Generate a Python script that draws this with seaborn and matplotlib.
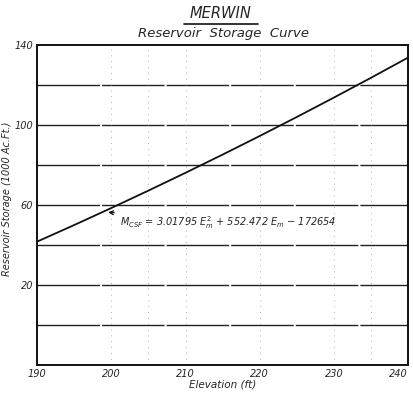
import numpy as np
import pandas as pd
import matplotlib
matplotlib.use("Agg")
import matplotlib.pyplot as plt
import seaborn as sns

# values
elevation = [190, 195, 200, 205, 210, 215, 220, 225, 230, 235, 240]
storage = [41.7, 50.0, 58.5, 67.2, 76.1, 85.2, 94.5, 104.0, 113.7, 123.6, 133.7]

x_ticks = [190, 200, 210, 220, 230, 240]
x_tick_labels = ["190", "200", "210", "220", "230", "240"]
y_ticks = [-20, 0, 20, 40, 60, 80, 100, 120, 140]
y_tick_labels = ["", "", "20", "", "60", "", "100", "", "140"]

equation = r"$M_{CSF}$ = 3.01795 $E_m^2$ + 552.472 $E_m$ $-$ 172654"

df = pd.DataFrame({"Elevation": elevation, "Storage": storage})

sns.set_style("white")
plt.rcParams["font.family"] = ["DejaVu Sans"]
plt.rcParams["mathtext.fontset"] = "dejavusans"

fig = plt.figure(figsize=(4.13, 4.0), dpi=100)
ax = fig.add_axes([0.09, 0.0875, 0.898, 0.8])

# horizontal grid (dark, hand drawn look)
for y in y_ticks[1:-1]:
    ax.axhline(y, color="#222222", lw=1.0, ls=(0, (45, 1.5)), zorder=1)
# faint vertical rulings
for x in [200, 205, 210, 220, 230, 235]:
    ax.axvline(x, color="#999999", lw=0.6, ls=(0, (1, 6)), zorder=1)

sns.lineplot(data=df, x="Elevation", y="Storage", color="#111111", lw=1.3, ax=ax, zorder=3)

ax.set_xlim(190, 240)
ax.set_ylim(-20, 140)
ax.set_xticks(x_ticks)
ax.set_xticklabels(x_tick_labels, fontstyle="italic", fontsize=7)
ax.get_xticklabels()[-1].set_ha("right")
ax.set_yticks(y_ticks)
ax.set_yticklabels(y_tick_labels, fontstyle="italic", fontsize=7)
ax.tick_params(axis="both", length=2, pad=1, color="#222222")
for side in ["left", "right", "top", "bottom"]:
    ax.spines[side].set_color("#111111")
    ax.spines[side].set_linewidth(1.4)

ax.set_xlabel("Elevation (ft)", fontstyle="italic", fontsize=7.5, labelpad=0)
ax.set_ylabel("Reservoir Storage (1000 Ac.Ft.)", fontstyle="italic", fontsize=7)
ax.yaxis.set_label_coords(-0.068, 0.52)

ax.annotate(equation, xy=(199.2, 56.5), xytext=(201.2, 51),
            fontsize=7, fontstyle="italic", va="center", ha="left",
            arrowprops=dict(arrowstyle="->", color="#111111", lw=0.9))

fig.text(0.535, 0.965, "MERWIN", ha="center", va="center", fontsize=10.5,
         fontstyle="italic")
fig.add_artist(plt.Line2D([0.445, 0.625], [0.94, 0.94], color="#111111", lw=1.2))
fig.text(0.54, 0.915, "Reservoir  Storage  Curve", ha="center", va="center",
         fontsize=9.5, fontstyle="italic")

fig.savefig("out.png", dpi=100)
